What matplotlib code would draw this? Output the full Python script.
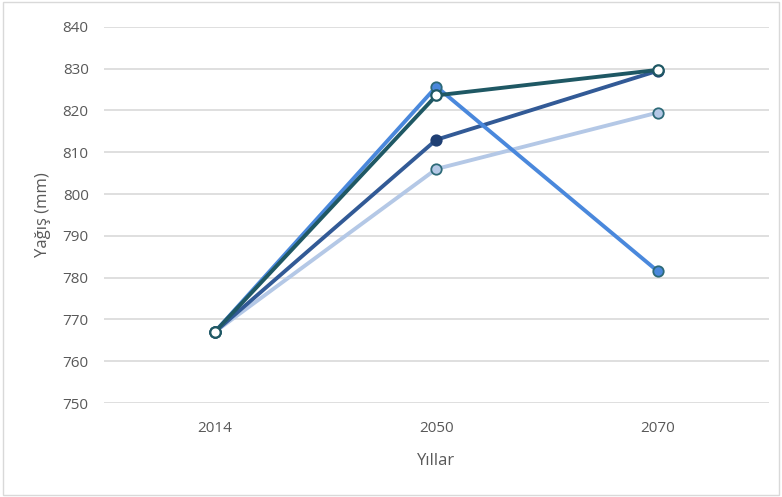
import matplotlib.pyplot as plt
from matplotlib.patches import Rectangle

plt.rcParams['font.family'] = ['Open Sans', 'DejaVu Sans']

# Data
years = ['2014', '2050', '2070']
seri_acik = [767, 806, 819.5]      # light blue
seri_koyu = [767, 813, 829.5]      # dark blue
seri_orta = [767, 825.7, 781.5]    # medium blue
seri_yesil = [767, 823.6, 829.7]   # dark teal

x = range(len(years))

fig = plt.figure(figsize=(7.82, 4.97), dpi=100)
ax = fig.add_axes([0.133, 0.189, 0.85, 0.757])

edge = '#2d6a78'
ax.plot(x, seri_acik, color='#b4c8e6', lw=2.8, marker='o', ms=7.5,
        mfc='#b4c8e6', mec=edge, mew=1.3, clip_on=False, zorder=3)
ax.plot(x, seri_koyu, color='#325a96', lw=2.8, marker='o', ms=7.5,
        mfc='#1f3f73', mec='#1f3f73', mew=1.3, clip_on=False, zorder=4)
ax.plot(x, seri_orta, color='#4a88dc', lw=2.8, marker='o', ms=7.5,
        mfc='#4a88dc', mec=edge, mew=1.3, clip_on=False, zorder=5)
ax.plot(x, seri_yesil, color='#1f5864', lw=2.8, marker='o', ms=7.5,
        mfc='white', mec='#1f5864', mew=1.6, clip_on=False, zorder=6)

ax.set_xlim(-0.5, 2.5)
ax.set_ylim(750, 840)
ax.set_yticks(range(750, 841, 10))
ax.set_xticks(list(x))
ax.set_xticklabels(years)
ax.grid(axis='y', color='#d9d9d9', lw=1.2)
ax.set_axisbelow(True)
for s in ax.spines.values():
    s.set_visible(False)
ax.tick_params(length=0, labelsize=11, colors='#595959', pad=11)
ax.tick_params(axis='x', pad=13)

ax.set_xlabel('Yıllar', fontsize=12, color='#595959', labelpad=12)
ax.set_ylabel('Yağış (mm)', fontsize=12, color='#595959', labelpad=8)

# outer frame
fig.patches.append(Rectangle((0.004, 0.004), 0.992, 0.992, transform=fig.transFigure,
                             fill=False, edgecolor='#d9d9d9', lw=1))

fig.savefig('out.png', dpi=100)
